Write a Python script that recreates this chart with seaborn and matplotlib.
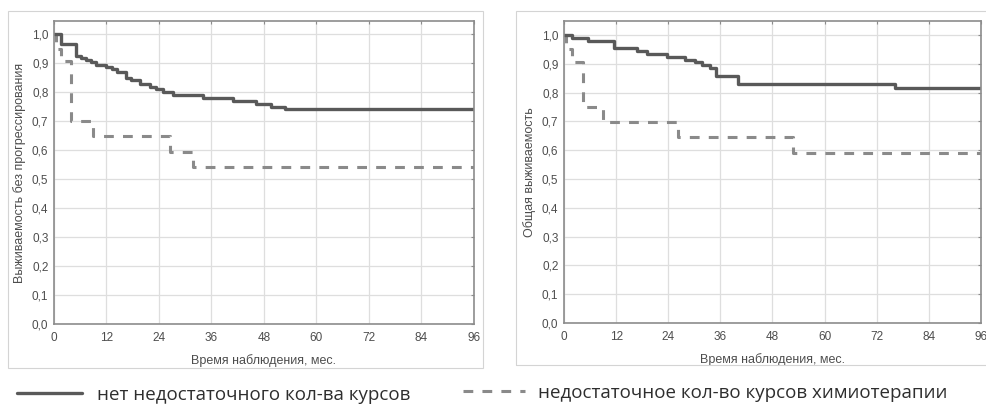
import matplotlib.pyplot as plt
import matplotlib.patches as mpatches
from matplotlib.ticker import FuncFormatter
import pandas as pd
import seaborn as sns

# Left panel: progression-free survival (months, survival fraction)
pfs_full_t = [0, 1.5, 5.1, 6.2, 7.4, 8.5, 9.7, 12.0, 13.2, 14.3, 16.5, 17.7, 19.6, 21.9, 23.4, 25.0, 27.2, 34.0, 41.0, 46.2, 49.7, 52.7, 96]
pfs_full_s = [1.0, 0.966, 0.925, 0.918, 0.91, 0.902, 0.894, 0.886, 0.878, 0.87, 0.85, 0.84, 0.826, 0.818, 0.81, 0.80, 0.79, 0.78, 0.77, 0.76, 0.75, 0.741, 0.741]
pfs_short_t = [0, 0.4, 1.7, 3.8, 8.9, 26.6, 31.8, 96]
pfs_short_s = [1.0, 0.95, 0.906, 0.70, 0.647, 0.593, 0.54, 0.54]

# Right panel: overall survival
os_full_t = [0, 1.8, 5.6, 11.4, 16.7, 19.0, 23.6, 27.9, 30.2, 31.7, 33.6, 35.1, 40.1, 76.2, 96]
os_full_s = [1.0, 0.99, 0.98, 0.956, 0.943, 0.934, 0.923, 0.914, 0.905, 0.895, 0.885, 0.856, 0.83, 0.816, 0.816]
os_short_t = [0, 0.4, 1.8, 4.3, 8.9, 26.3, 52.8, 96]
os_short_s = [1.0, 0.95, 0.905, 0.75, 0.698, 0.647, 0.59, 0.59]

x_ticks = [0, 12, 24, 36, 48, 60, 72, 84, 96]
y_ticks = [0.0, 0.1, 0.2, 0.3, 0.4, 0.5, 0.6, 0.7, 0.8, 0.9, 1.0]
label_full = "нет недостаточного кол-ва курсов"
label_short = "недостаточное кол-во курсов химиотерапии"
x_label = "Время наблюдения, мес."
y_label_left = "Выживаемость без прогрессирования"
y_label_right = "Общая выживаемость"

sns.set_style("white")
plt.rcParams['font.family'] = ['Liberation Sans', 'DejaVu Sans']

W, H = 987, 404
fig = plt.figure(figsize=(W / 100, H / 100), dpi=100)

# light frames around the two panels
for (x0, y0, x1, y1) in [(8, 11, 483, 368), (516, 11, 995, 365)]:
    fig.patches.append(mpatches.Rectangle((x0 / W, 1 - y1 / H), (x1 - x0) / W, (y1 - y0) / H,
                                          transform=fig.transFigure, fill=False,
                                          edgecolor='#d4d4d4', linewidth=0.8))


def make_axes(px0, px1, ptop, pbot, p1):
    ax = fig.add_axes([px0 / W, 1 - pbot / H, (px1 - px0) / W, (pbot - ptop) / H])
    top = 1 + (p1 - ptop) / (pbot - p1)
    ax.set_xlim(0, 96)
    ax.set_ylim(0, top)
    return ax


def style_axes(ax, ylab):
    ax.set_xticks(x_ticks)
    ax.set_yticks(y_ticks)
    ax.yaxis.set_major_formatter(FuncFormatter(lambda v, p: f"{v:.1f}".replace('.', ',')))
    ax.grid(True, color='#dedede', linewidth=0.9)
    ax.set_axisbelow(True)
    for s in ax.spines.values():
        s.set_color('#8c8c8c')
        s.set_linewidth(1.2)
    ax.tick_params(axis='both', direction='in', length=2.5, width=0.8, color='#8c8c8c',
                   top=True, right=True, labelsize=8.5, labelcolor='#4d4d4d', pad=4)
    ax.tick_params(axis='x', pad=6)
    ax.set_xlabel(x_label, fontsize=9, color='#4d4d4d', labelpad=7)
    ax.set_ylabel(ylab, fontsize=9, color='#4d4d4d', labelpad=4)


def draw(ax, t_full, s_full, t_short, s_short):
    d1 = pd.DataFrame({'t': t_full, 's': s_full})
    d2 = pd.DataFrame({'t': t_short, 's': s_short})
    sns.lineplot(data=d2, x='t', y='s', ax=ax, drawstyle='steps-post', color='#8a8a8a',
                 linewidth=2.2, linestyle=(0, (3.2, 3.0)), estimator=None, label=label_short)
    sns.lineplot(data=d1, x='t', y='s', ax=ax, drawstyle='steps-post', color='#595959',
                 linewidth=2.4, estimator=None, label=label_full)
    ax.get_legend().remove()


ax1 = make_axes(54, 474, 21, 324, 34)
draw(ax1, pfs_full_t, pfs_full_s, pfs_short_t, pfs_short_s)
style_axes(ax1, y_label_left)

ax2 = make_axes(564, 981, 21, 323, 35)
draw(ax2, os_full_t, os_full_s, os_short_t, os_short_s)
style_axes(ax2, y_label_right)
ax2.set_xticklabels([str(v) for v in x_ticks])
for lab in ax2.get_xticklabels():
    lab.set_clip_on(False)

lines = ax1.get_lines()
h_short, h_full = lines[0], lines[1]
leg_font = {'family': ['Open Sans', 'DejaVu Sans'], 'size': 13.5}
fig.legend([h_full], [label_full], loc='center left', bbox_to_anchor=(17 / W, 1 - 395 / H),
           frameon=False, prop=leg_font, borderpad=0, borderaxespad=0,
           handlelength=3.47, handletextpad=0.8, labelcolor='#2e2e2e')
fig.legend([h_short], [label_short], loc='center left', bbox_to_anchor=(463 / W, 1 - 393 / H),
           frameon=False, prop=leg_font, borderpad=0, borderaxespad=0,
           handlelength=3.3, handletextpad=0.7, labelcolor='#2e2e2e')

fig.savefig("out.png", dpi=100)
